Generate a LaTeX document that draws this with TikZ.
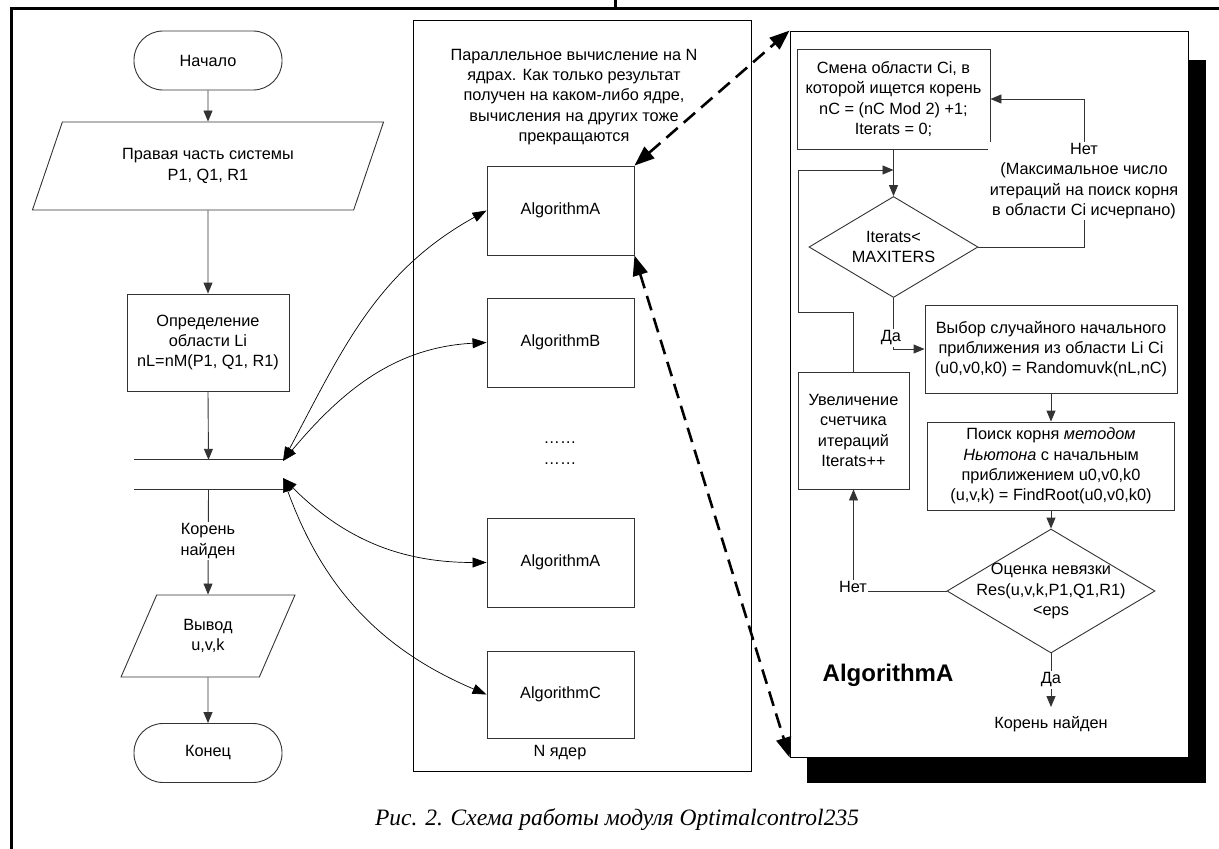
\documentclass[tikz,border=0pt]{standalone}
\usepackage{fontspec}
\setmainfont{Liberation Sans}
\newfontfamily\capfont{Liberation Serif}
\usetikzlibrary{arrows.meta,shapes.geometric}
\begin{document}
\begin{tikzpicture}[x=1pt,y=1pt,
  every node/.style={font=\fontsize{16.3}{20.3}\selectfont},
  ln/.style={draw=black!80, line width=0.9pt},
  arr/.style={ln, -{Triangle[length=11pt,width=9pt]}},
  box/.style={ln, rectangle, align=center, inner sep=0pt},
  term/.style={box, rounded corners=29pt, minimum width=148pt, minimum height=59pt},
  para/.style={ln, trapezium, trapezium left angle=63, trapezium right angle=117, trapezium stretches=true, align=center, inner sep=0pt},
  dia/.style={ln, diamond, inner sep=0pt},
  txt/.style={align=center, inner sep=1pt},
  wlab/.style={align=center, fill=white, inner sep=1.5pt},
  curv/.style={draw=black, line width=0.7pt, {Triangle[length=14pt,width=10pt]}-{Triangle[length=14pt,width=10pt]}},
  dsh/.style={draw=black, line width=2.6pt, dash pattern=on 15pt off 8pt, {Triangle[length=20pt,width=15pt]}-{Triangle[length=20pt,width=15pt]}},
]
\useasboundingbox (0,0) rectangle (1219,-849);
% page frame
\draw[line width=3pt] (1219,-8.5) -- (11,-8.5) -- (11,-849);
\draw[line width=3pt] (615,0) -- (615,-8.5);

% left flowchart
\node[term] (start) at (208,-60.5) {Начало};
\node[para, minimum width=352pt, minimum height=88pt] (in1) at (208,-166) {Правая часть системы\\P1, Q1, R1};
\node[box, minimum width=162pt, minimum height=97pt] (def) at (208,-342.5) {Определение\\области Li\\nL=nM(P1, Q1, R1)};
\node[minimum width=149pt, minimum height=29pt, inner sep=0pt] (bar) at (208.5,-474.5) {};
\draw[ln] (bar.north west) -- (bar.north east);
\draw[ln] (bar.south west) -- (bar.south east);
\node[para, minimum width=175pt, minimum height=82pt] (out) at (208,-636) {Вывод\\u,v,k};
\node[term] (end) at (208,-753) {Конец};
\draw[arr] (start) -- (in1);
\draw[arr] (in1) -- (def);
\draw[arr] (def.south) -- (bar.north);
\draw[arr] (bar.south) -- (out.north);
\node[wlab] at (208,-541) {Корень\\найден};
\draw[arr] (out) -- (end);

% middle box
\node[box, draw=black, minimum width=338pt, minimum height=751pt] (par) at (582,-395.5) {};
\node[txt] (partxt) at (574,-97) {Параллельное вычисление на N\\ядрах. Как только результат\\получен на каком-либо ядре,\\вычисления на других тоже\\прекращаются};
\node[box, minimum width=147pt, minimum height=89pt] (a1) at (560.5,-210.5) {AlgorithmA};
\node[box, minimum width=147pt, minimum height=89pt] (b) at (560.5,-342.5) {AlgorithmB};
\node[txt] (dots) at (560,-453) {……\\……};
\node[box, minimum width=147pt, minimum height=89pt] (a2) at (560.5,-562.5) {AlgorithmA};
\node[box, minimum width=147pt, minimum height=87pt] (c) at (560.5,-694.5) {AlgorithmC};
\node[txt] (nyad) at (560,-753) {N ядер};

% curves
\coordinate (s1) at (283,-461);
\coordinate (s2) at (283,-478);
\draw[curv] (s1) to[out=62,in=209] (a1.west);
\draw[curv] (s1) to[out=50,in=183] (b.west);
\draw[curv] (s2) to[out=-45,in=180] (a2.west);
\draw[curv] (s2) to[out=-70,in=157] (c.west);

% right box with shadow
\fill[black] (807,-60) rectangle (1206,-783);
\node[box, draw=black, fill=white, minimum width=398pt, minimum height=726pt] (rb) at (989,-394) {};

\draw[dsh] (a1.north east) -- (rb.north west);
\draw[dsh] (a1.south east) -- (rb.south west);

\node[box, minimum width=193pt, minimum height=100pt] (chg) at (893.5,-99) {Смена области Ci, в\\которой ищется корень\\nC = (nC Mod 2) +1;\\Iterats = 0;};
\node[dia, minimum width=169pt, minimum height=101pt] (d1) at (893.5,-247) {};
\node[txt] at (d1) {Iterats<\\MAXITERS};
\node[box, minimum width=252pt, minimum height=88pt] (sel) at (1051,-349) {Выбор случайного начального\\приближения из области Li Ci\\(u0,v0,k0) = Randomuvk(nL,nC)};
\node[box, minimum width=247pt, minimum height=88pt] (nw) at (1051,-466) {Поиск корня \textit{методом}\\\textit{Ньютона} с начальным\\приближением u0,v0,k0\\(u,v,k) = FindRoot(u0,v0,k0)};
\node[dia, minimum width=208pt, minimum height=124pt] (d2) at (1051,-591) {};
\node[txt] at (d2) {Оценка невязки\\Res(u,v,k,P1,Q1,R1)\\<eps};
\node[box, minimum width=111pt, minimum height=117pt] (inc) at (853.5,-430.5) {Увеличение\\счетчика\\итераций\\Iterats++};
\coordinate (fin) at (1051,-707);

\draw[arr] (chg.south) -- (d1.north);
\draw[arr] (d1.east) -- (1084,-247) -- (1084,-99) -- (chg.east);
\node[wlab] at (1084,-181) {Нет\\(Максимальное число\\итераций на поиск корня\\в области Ci исчерпано)};
\draw[arr] (d1.south) |- (sel.west);
\node[wlab] at (891,-338) {Да};
\draw[arr] (sel.south) -- (nw.north);
\draw[arr] (nw.south) -- (d2.north);
\draw[arr] (d2.west) -| (inc.south);
\node[wlab] at (853,-587) {Нет};
\draw[arr] (inc.north) -- (853.5,-312) -- (798,-312) -- (798,-170) -- (893.5,-170);
\draw[arr] (d2.south) -- (fin);
\node[wlab] at (1051,-680) {Да};
\node[txt] at (1051,-724) {Корень найден};
\node[font=\fontsize{24}{28}\selectfont\bfseries] at (888,-675) {AlgorithmA};

% caption
\node[font=\capfont\itshape\fontsize{23.5}{27}\selectfont] at (617,-820) {Рис. 2. Схема работы модуля Optimalcontrol235};
\end{tikzpicture}
\end{document}
